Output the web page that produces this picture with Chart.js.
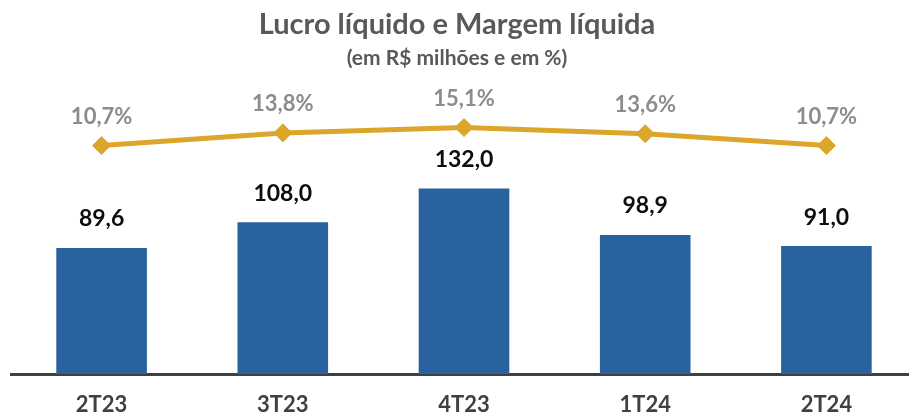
<!DOCTYPE html>
<html>
<head>
<meta charset="utf-8">
<script src="https://cdn.jsdelivr.net/npm/chart.js@4"></script>
<style>
  html, body { margin: 0; padding: 0; background: #ffffff; overflow: hidden; }
  #c { display: block; }
</style>
</head>
<body>
<canvas id="c" width="918" height="416"></canvas>
<script>
const categories = ['2T23', '3T23', '4T23', '1T24', '2T24'];
const lucroLiquido = [89.6, 108.0, 132.0, 98.9, 91.0];
const margemLiquida = [10.7, 13.8, 15.1, 13.6, 10.7];
const titleText = 'Lucro líquido e Margem líquida';
const subtitleText = '(em R$ milhões e em %)';

const FONT = 'Lato, "Open Sans", "Liberation Sans", sans-serif';

const fmt = (v, d) => v.toFixed(d).replace('.', ',');

const labelsPlugin = {
  id: 'valueLabels',
  afterDatasetsDraw(chart) {
    const ctx = chart.ctx;
    ctx.save();
    ctx.textAlign = 'center';
    ctx.textBaseline = 'middle';
    // bar labels
    const barMeta = chart.getDatasetMeta(1);
    ctx.font = 'bold 23px ' + FONT;
    ctx.fillStyle = '#0d0d0d';
    barMeta.data.forEach((el, i) => {
      ctx.fillText(fmt(lucroLiquido[i], 1), el.x, el.y - 29);
    });
    // line labels
    const lineMeta = chart.getDatasetMeta(0);
    ctx.font = 'bold 22px ' + FONT;
    ctx.fillStyle = '#8C8C8C';
    lineMeta.data.forEach((el, i) => {
      ctx.fillText(fmt(margemLiquida[i], 1) + '%', el.x, el.y - 29);
    });
    ctx.restore();
  },
  afterDraw(chart) {
    const ctx = chart.ctx;
    ctx.save();
    ctx.textAlign = 'center';
    ctx.textBaseline = 'middle';
    ctx.fillStyle = '#595959';
    ctx.font = 'bold 29px ' + FONT;
    ctx.fillText(titleText, 457, 25);
    ctx.font = 'bold 21px ' + FONT;
    ctx.fillText(subtitleText, 457, 58);
    ctx.restore();
  }
};

new Chart(document.getElementById('c'), {
  data: {
    labels: categories,
    datasets: [
      {
        type: 'line',
        label: 'Margem líquida',
        data: margemLiquida,
        yAxisID: 'y2',
        borderColor: '#DCA62A',
        backgroundColor: '#DCA62A',
        borderWidth: 5,
        pointStyle: 'rectRot',
        pointRadius: 9,
        pointHoverRadius: 9,
        pointBorderWidth: 1,
        pointBorderColor: '#DCA62A',
        tension: 0,
        order: 0
      },
      {
        type: 'bar',
        label: 'Lucro líquido',
        data: lucroLiquido,
        yAxisID: 'y',
        backgroundColor: '#2A62A0',
        borderWidth: 0,
        barPercentage: 0.5,
        categoryPercentage: 1.0,
        order: 1
      }
    ]
  },
  options: {
    responsive: false,
    animation: false,
    layout: { autoPadding: false, padding: { top: 70, left: 11, right: 1, bottom: 0 } },
    plugins: {
      legend: { display: false },
      title: { display: false },
      tooltip: { enabled: false }
    },
    scales: {
      x: {
        type: 'category',
        grid: { display: false, drawTicks: false },
        border: { display: true, color: '#404040', width: 3 },
        ticks: {
          color: '#404040',
          padding: 20,
          font: { family: FONT, size: 22, weight: 'bold', lineHeight: 1.0 }
        },
        afterFit(scale) { scale.height = 42; }
      },
      y: {
        display: false,
        min: 0,
        max: 216.3
      },
      y2: {
        display: false,
        position: 'right',
        min: -45.05,
        max: 29.15
      }
    }
  },
  plugins: [labelsPlugin]
});
</script>
</body>
</html>
